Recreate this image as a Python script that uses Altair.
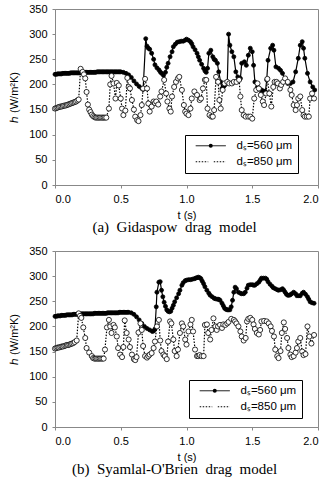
import altair as alt
import pandas as pd

# ---------------- data ----------------
LAB_560 = "dₛ=560 μm"
LAB_850 = "dₛ=850 μm"
KEYS = ["560", "850"]

# Panel (a) Gidaspow, d=560
a560_t = [0.00,0.01,0.02,0.03,0.04,0.05,0.06,0.07,0.08,0.09,0.10,0.11,0.12,0.13,0.14,0.15,0.16,0.17,0.18,0.19,
          0.20,0.21,0.22,0.23,0.24,0.25,0.26,0.27,0.28,0.29,0.30,0.31,0.32,0.33,0.34,0.35,0.36,0.37,0.38,0.39,
          0.40,0.41,0.42,0.43,0.44,0.45,0.46,0.47,0.48,0.49,0.50,0.52,0.54,0.56,0.58,0.60,0.62,0.64,0.66,0.67,
          0.69,0.70,0.71,0.72,0.735,0.75,0.76,0.775,0.79,0.80,0.81,0.825,0.84,0.85,0.86,0.875,0.89,0.90,0.915,0.93,
          0.945,0.96,0.975,0.99,1.00,1.015,1.03,1.04,1.05,1.065,1.08,1.09,1.10,1.115,1.13,1.14,1.15,1.16,1.17,1.185,
          1.20,1.21,1.22,1.235,1.245,1.26,1.27,1.28,1.29,1.31,1.32,1.33,1.345,1.36,1.375,1.39,1.41,1.42,1.44,1.455,
          1.47,1.485,1.50,1.51,1.52,1.54,1.555,1.57,1.585,1.60,1.61,1.62,1.64,1.655,1.665,1.68,1.70,1.715,1.73,1.75,
          1.77,1.79,1.81,1.83,1.85,1.865,1.88,1.89,1.90,1.92,1.94,1.96,1.975]
a560_h = [220,220,221,221,221,221,222,222,222,222,222,222,223,223,223,223,223,223,223,223,
          224,224,224,224,224,224,224,224,224,224,224,224,225,225,225,225,225,225,225,225,
          225,225,225,225,225,225,225,225,225,225,225,224,222,219,214,207,201,196,192,190,
          291,276,272,270,262,250,239,233,229,225,222,218,224,234,242,255,265,275,280,284,
          285,286,286,288,290,288,285,281,275,269,262,255,248,240,232,227,224,232,262,268,
          255,250,248,242,225,205,192,195,198,202,300,278,265,255,225,215,212,242,245,238,
          258,272,265,238,205,195,191,189,187,186,209,248,272,278,268,235,232,228,222,209,
          202,202,205,225,252,278,285,272,252,222,205,195,189]

# Panel (a) Gidaspow, d=850
a850_t = [0.00,0.01,0.02,0.03,0.04,0.05,0.06,0.07,0.08,0.09,0.10,0.11,0.12,0.13,0.14,0.15,0.16,0.17,0.18,
          0.195,0.21,0.22,0.23,0.24,0.25,0.26,0.27,0.28,0.29,0.30,0.31,0.32,0.33,0.34,0.35,0.36,0.37,0.38,0.39,
          0.41,0.42,0.43,0.445,0.46,0.47,0.485,0.50,0.51,0.52,0.535,0.55,0.56,0.57,0.585,0.60,0.61,0.625,0.635,0.65,
          0.66,0.67,0.685,0.70,0.71,0.72,0.735,0.75,0.76,0.77,0.785,0.80,0.81,0.83,0.845,0.855,0.87,0.88,0.89,0.906,
          0.92,0.935,0.945,0.965,0.98,0.99,1.00,1.015,1.03,1.04,1.06,1.08,1.10,1.11,1.125,1.14,1.15,1.16,1.175,1.19,
          1.20,1.21,1.225,1.24,1.25,1.26,1.275,1.29,1.31,1.325,1.345,1.36,1.38,1.40,1.41,1.42,1.435,1.45,1.47,1.485,
          1.50,1.515,1.53,1.54,1.55,1.565,1.58,1.59,1.605,1.615,1.63,1.645,1.66,1.67,1.685,1.695,1.71,1.72,1.735,1.75,
          1.77,1.79,1.80,1.815,1.83,1.84,1.85,1.865,1.88,1.89,1.90,1.915,1.93,1.94,1.955,1.97]
a850_h = [152,153,154,155,156,156,157,158,158,159,160,161,162,163,164,165,166,168,170,
          231,225,220,212,185,160,150,145,140,137,135,134,134,134,134,134,134,134,134,134,
          152,200,217,202,172,203,198,172,152,139,148,213,195,192,169,150,136,129,127,139,
          159,192,211,192,162,146,156,166,163,166,160,176,186,209,182,166,152,146,176,195,
          205,212,215,189,159,146,142,139,152,172,186,179,169,172,192,209,209,152,139,136,
          136,149,215,205,169,152,189,202,205,202,202,205,205,209,176,149,139,136,136,136,
          132,172,189,202,192,179,166,159,182,211,182,156,195,205,205,202,192,199,205,212,
          205,189,179,159,149,159,172,176,149,139,136,136,136,172,182,172]

# Panel (b) Syamlal-O'Brien, d=560
b560_t = [0.00,0.01,0.02,0.03,0.04,0.05,0.06,0.07,0.08,0.09,0.10,0.11,0.12,0.13,0.14,0.15,0.16,0.17,0.18,0.19,
          0.20,0.21,0.22,0.23,0.24,0.25,0.26,0.27,0.28,0.29,0.30,0.31,0.32,0.33,0.34,0.35,0.36,0.37,0.38,0.39,
          0.40,0.41,0.42,0.43,0.44,0.45,0.46,0.47,0.48,0.49,0.50,0.51,0.52,0.53,0.54,0.55,0.56,0.58,0.60,0.62,
          0.64,0.66,0.68,0.70,0.72,0.74,0.75,0.76,0.77,0.775,0.79,0.80,0.81,0.82,0.83,0.84,0.85,0.86,0.87,0.88,
          0.89,0.90,0.91,0.925,0.94,0.95,0.965,0.975,0.99,1.00,1.015,1.03,1.045,1.06,1.07,1.08,1.09,1.10,1.11,1.12,
          1.13,1.14,1.155,1.17,1.18,1.195,1.21,1.22,1.235,1.245,1.255,1.27,1.28,1.29,1.30,1.31,1.32,1.33,1.34,1.35,
          1.36,1.37,1.38,1.395,1.41,1.42,1.435,1.447,1.46,1.47,1.485,1.50,1.51,1.52,1.535,1.55,1.56,1.57,1.585,1.60,
          1.61,1.62,1.635,1.65,1.66,1.675,1.69,1.70,1.715,1.73,1.74,1.75,1.76,1.77,1.78,1.79,1.80,1.815,1.83,1.84,
          1.855,1.865,1.88,1.89,1.905,1.92,1.93,1.94,1.955,1.97]
b560_h = [220,220,221,221,221,222,222,222,222,223,223,223,223,223,224,224,224,224,224,224,
          225,225,225,225,225,225,225,225,225,225,226,226,226,226,226,226,226,226,226,226,
          227,227,227,227,227,227,227,227,227,228,228,228,228,228,228,228,228,227,224,219,
          213,206,200,196,193,190,191,195,239,268,288,289,272,259,248,240,233,230,229,230,
          236,242,249,257,265,272,282,287,291,292,293,293,294,295,296,297,298,297,295,290,
          285,279,272,266,262,259,256,255,254,254,252,246,241,236,234,233,233,233,239,252,
          268,278,275,268,266,265,265,268,276,282,283,283,282,282,285,288,292,296,296,296,
          294,289,284,280,277,275,273,272,273,275,272,268,264,262,262,263,265,268,265,261,
          261,261,266,268,264,259,254,249,247,246]

# Panel (b) Syamlal-O'Brien, d=850
b850_t = [0.00,0.01,0.02,0.03,0.04,0.05,0.06,0.07,0.08,0.09,0.10,0.11,0.12,0.13,0.14,0.15,0.165,
          0.18,0.19,0.20,0.215,0.23,0.24,0.26,0.28,0.29,0.30,0.31,0.32,0.33,0.34,0.35,0.36,0.37,0.38,
          0.395,0.41,0.42,0.43,0.445,0.455,0.47,0.48,0.495,0.51,0.52,0.53,0.545,0.56,0.57,0.585,0.60,0.61,0.62,
          0.635,0.65,0.66,0.67,0.685,0.70,0.71,0.72,0.735,0.75,0.76,0.775,0.79,0.80,0.81,0.825,0.835,0.85,0.86,
          0.875,0.885,0.90,0.91,0.925,0.935,0.95,0.965,0.975,0.99,1.00,1.015,1.03,1.04,1.05,1.065,1.08,1.09,
          1.10,1.115,1.13,1.14,1.155,1.165,1.18,1.19,1.205,1.22,1.23,1.24,1.255,1.27,1.28,1.295,1.31,1.32,1.34,
          1.36,1.37,1.38,1.395,1.41,1.42,1.435,1.45,1.46,1.47,1.485,1.50,1.51,1.52,1.535,1.55,1.56,1.57,1.59,
          1.61,1.625,1.64,1.65,1.665,1.675,1.69,1.70,1.715,1.725,1.74,1.75,1.765,1.775,1.79,1.80,1.815,1.83,1.84,
          1.85,1.865,1.88,1.89,1.905,1.92,1.935,1.95,1.97]
b850_h = [156,157,158,158,159,160,160,161,162,163,163,164,165,166,167,169,172,
          226,221,217,198,177,157,148,141,137,136,136,136,136,136,136,136,136,154,
          198,213,200,187,203,198,180,157,144,139,159,212,187,174,159,144,135,133,139,
          188,206,193,161,141,138,141,144,147,157,170,200,213,172,151,144,141,135,170,
          210,206,174,151,141,154,187,206,200,174,164,190,204,213,190,154,141,141,
          143,141,141,203,204,187,174,193,216,200,193,200,203,197,204,203,206,209,215,
          213,210,206,200,190,180,172,177,210,215,217,213,204,195,187,184,193,210,211,
          210,206,200,191,180,154,141,137,151,187,208,195,177,157,144,139,141,148,157,
          170,177,150,143,145,200,180,166,183]

# ---------------- chart ----------------
FONT = "Liberation Sans"
SERIF = "Liberation Serif"
NB = "\u00a0"
LINE_PATH = "M-5.9,0L5.9,0"


def frame(t560, h560, t850, h850):
    d1 = pd.DataFrame({"t": t560, "h": h560, "series": LAB_560, "key": KEYS[0]})
    d2 = pd.DataFrame({"t": t850, "h": h850, "series": LAB_850, "key": KEYS[1]})
    return pd.concat([d1, d2], ignore_index=True)


def panel(df, caption, lx, ly):
    x = alt.X("t:Q", scale=alt.Scale(domain=[0, 2]),
              axis=alt.Axis(values=[0, 0.5, 1.0, 1.5, 2.0], format=".1f", title="t (s)"))
    y = alt.Y("h:Q", scale=alt.Scale(domain=[0, 350]),
              axis=alt.Axis(values=list(range(0, 351, 50)), title="ℎ (W/m²K)"))
    common = dict(title=None, orient="none", legendX=lx, legendY=ly, padding=5,
                  symbolOffset=15, rowPadding=3, labelFont=FONT, labelFontSize=11.5)
    # legend A: line samples + labels + frame
    leg_line = alt.Legend(symbolType=LINE_PATH, symbolSize=26, symbolStrokeColor="black",
                          symbolStrokeWidth=1, strokeColor="black", fillColor="white",
                          labelColor="black", labelOffset=20, zindex=0, **common)
    # legend B: the marker of each sample, drawn on top of legend A (no visible labels)
    leg_pt = alt.Legend(symbolStrokeColor="black", symbolStrokeWidth=0.8, symbolOpacity=1,
                        labelExpr="'\u00a0'", labelOffset=85, zindex=1, **common)
    lines = alt.Chart(df).mark_line(color="black", strokeWidth=1.2).encode(
        x=x, y=y,
        strokeDash=alt.StrokeDash("series:N",
                                  scale=alt.Scale(domain=[LAB_560, LAB_850], range=[[1, 0], [1.5, 1.5]]),
                                  legend=leg_line),
        order="t:Q",
    )
    pts = alt.Chart(df).mark_point(filled=True, stroke="black", strokeWidth=0.8, opacity=1).encode(
        x=x, y=y,
        fill=alt.Fill("key:N", scale=alt.Scale(domain=KEYS, range=["black", "white"]), legend=leg_pt),
        size=alt.Size("key:N", scale=alt.Scale(domain=KEYS, range=[16, 26]), legend=leg_pt),
    )
    return alt.layer(lines, pts).properties(
        width=263, height=176,
        title=alt.TitleParams(caption, orient="bottom", anchor="middle", dx=-12, offset=0,
                              font=SERIF, fontSize=15, fontWeight="normal", color="black"),
    )


cap_a = "(a)" + NB + " Gidaspow" + NB + " drag" + NB + " model"
cap_b = "(b)" + NB + " Syamlal-O'Brien" + NB + " drag" + NB + " model"
a = panel(frame(a560_t, a560_h, a850_t, a850_h), cap_a, 130, 126)
b = panel(frame(b560_t, b560_h, b850_t, b850_h), cap_b, 134, 129)

chart = alt.vconcat(a, b, spacing=8).resolve_scale(
    fill="independent", strokeDash="independent", size="independent"
).resolve_legend(
    fill="independent", strokeDash="independent", size="independent"
).configure(
    padding={"left": 8, "top": 2, "right": 8, "bottom": 0},
).configure_view(
    stroke="#888888", strokeWidth=1,
).configure_axis(
    grid=False, domainColor="#888888", tickColor="#888888", tickSize=3,
    labelFont=FONT, labelFontSize=11, labelColor="black", labelPadding=5,
    titleFont=FONT, titleFontSize=11, titleFontWeight="normal", titleColor="black",
).configure_axisX(
    titlePadding=5,
).configure_axisY(
    titlePadding=9,
).configure_legend(
    cornerRadius=0,
)

chart.save("out.html", embed_options={"renderer": "svg", "actions": False})
